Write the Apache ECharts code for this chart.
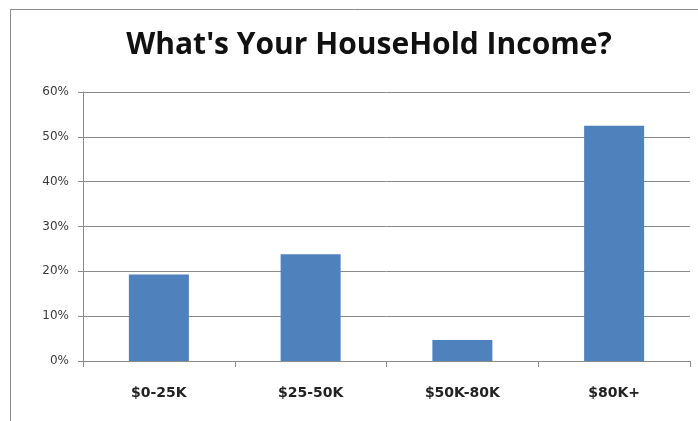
<!DOCTYPE html>
<html>
<head>
<meta charset="utf-8">
<script src="https://cdn.jsdelivr.net/npm/echarts@6/dist/echarts.min.js"></script>
<style>
  html, body { margin: 0; padding: 0; background: #fff; }
  #chart { width: 698px; height: 421px; }
</style>
</head>
<body>
<div id="chart"></div>
<script>
// Household income brackets and share of respondents (%)
var categories = ['$0-25K', '$25-50K', '$50K-80K', '$80K+'];
var shares = [19.3, 23.8, 4.7, 52.5];
var yTicks = [0, 10, 20, 30, 40, 50, 60];

var chart = echarts.init(document.getElementById('chart'), null, { renderer: 'canvas' });

chart.setOption({
  backgroundColor: '#ffffff',
  animation: false,
  title: {
    text: "What's Your HouseHold Income?",
    left: 364,
    top: 25,
    textAlign: 'center',
    textStyle: {
      fontFamily: 'Open Sans',
      fontWeight: 'bold',
      fontSize: 30,
      color: '#111111'
    }
  },
  graphic: [
    { type: 'line', shape: { x1: 10.5, y1: 9.5, x2: 698, y2: 9.5 }, style: { stroke: '#8c8c8c', lineWidth: 1 } },
    { type: 'line', shape: { x1: 10.5, y1: 9.5, x2: 10.5, y2: 421 }, style: { stroke: '#8c8c8c', lineWidth: 1 } }
  ],
  grid: { left: 83, right: 8, top: 92, bottom: 60 },
  xAxis: {
    type: 'category',
    data: categories,
    boundaryGap: true,
    axisLine: { lineStyle: { color: '#8a8a8a', width: 1 } },
    axisTick: { show: true, length: 6, inside: false, lineStyle: { color: '#8a8a8a' } },
    axisLabel: {
      margin: 25,
      fontFamily: 'DejaVu Sans',
      fontSize: 14,
      fontWeight: 'bold',
      color: '#222222'
    },
    splitLine: { show: false }
  },
  yAxis: {
    type: 'value',
    min: yTicks[0],
    max: yTicks[yTicks.length - 1],
    interval: 10,
    axisLine: { show: true, lineStyle: { color: '#8a8a8a', width: 1 } },
    axisTick: { show: true, length: 5, lineStyle: { color: '#8a8a8a' } },
    axisLabel: {
      margin: 14,
      fontFamily: 'DejaVu Sans',
      fontSize: 12,
      color: '#3a3a3a',
      formatter: function (v) { return v + '%'; }
    },
    splitLine: { show: true, lineStyle: { color: '#8a8a8a', width: 1 } }
  },
  series: [{
    type: 'bar',
    data: shares,
    barWidth: 60,
    itemStyle: { color: '#4f81bd' }
  }]
});
</script>
</body>
</html>
